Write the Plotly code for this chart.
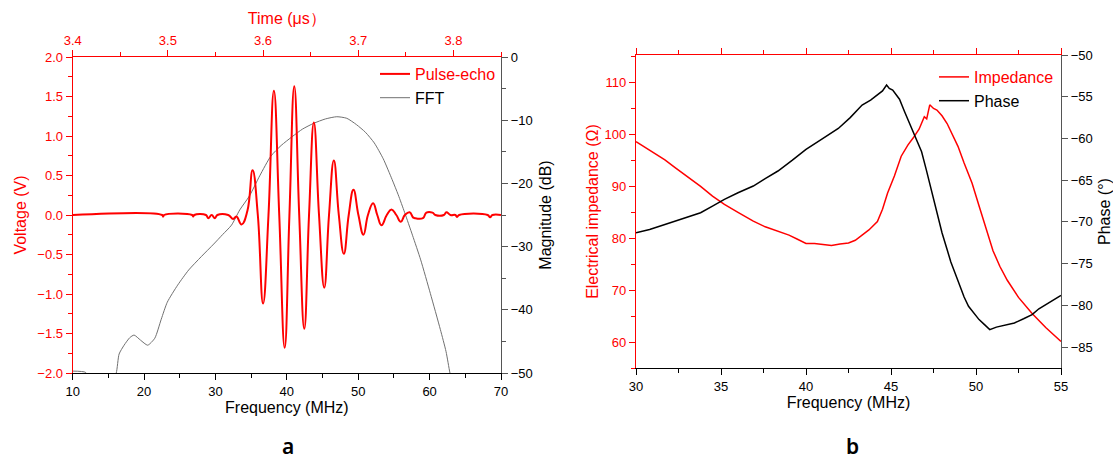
import plotly.graph_objects as go

# ---------------- Panel a: pulse-echo (time) ----------------
pulse_time = [3.400, 3.494, 3.4951, 3.496, 3.5255, 3.5266, 3.5277, 3.540, 3.5424, 3.546, 3.5494, 3.552,
              3.5634, 3.5686, 3.572, 3.5774, 3.5835, 3.589, 3.5945, 3.600, 3.6057, 3.6114, 3.617,
              3.6227, 3.6277, 3.6328, 3.638, 3.6433, 3.6483, 3.6534, 3.6588, 3.6643, 3.6693,
              3.6744, 3.6796, 3.6849, 3.690, 3.6950, 3.7002, 3.7055, 3.7102, 3.7156, 3.720,
              3.7244, 3.730, 3.7349, 3.740, 3.7447, 3.749, 3.754, 3.7575, 3.7594, 3.768,
              3.7716, 3.778, 3.781, 3.790, 3.7926, 3.797, 3.802, 3.8038, 3.806, 3.836,
              3.8385, 3.841, 3.850]
pulse_volt = [0.0, 0.0, -0.02, 0.0, 0.0, -0.02, 0.0, 0.0, -0.04, 0.0, -0.04, 0.0,
              0.0, -0.05, -0.02, -0.12, 0.05, 0.566, 0.0, -1.12, 0.0, 1.572, 0.0,
              -1.68, 0.0, 1.63, 0.0, -1.44, 0.0, 1.17, 0.0, -0.92, 0.0,
              0.69, 0.0, -0.49, 0.0, 0.32, 0.0, -0.25, 0.0, 0.15, 0.0,
              -0.13, 0.0, 0.07, 0.0, -0.085, 0.0, 0.035, -0.03, -0.04, -0.04,
              0.03, 0.03, 0.0, 0.0, 0.035, 0.0, 0.0, -0.025, 0.0, 0.0,
              -0.03, 0.0, 0.0]

# ---------------- Panel a: FFT (frequency) ----------------
fft_freq = [10.0, 11.8, 12.3, 15.6, 16.1, 16.5, 17.2, 18.0, 18.6, 19.5, 20.5, 21.5, 22.4, 23.25,
            24.7, 26.25, 28.0, 29.75, 31.0, 32.25, 33.4, 34.75, 36.2, 37.75, 39.2, 40.75, 42.2,
            43.75, 45.4, 47.0, 48.4, 49.75, 51.0, 52.25, 53.5, 54.75, 55.6, 56.5, 57.6, 58.75,
            60.1, 61.5, 62.3, 62.85, 63.5]
fft_db = [-49.7, -49.9, -51.0, -51.0, -50.0, -47.0, -45.6, -44.4, -44.0, -44.8, -45.6, -44.5, -41.5,
          -38.8, -36.1, -33.7, -31.6, -29.6, -28.1, -26.6, -24.2, -22.0, -18.8, -15.7, -14.0,
          -12.6, -11.4, -10.5, -9.8, -9.45, -9.7, -10.7, -11.9, -13.6, -16.1, -19.4, -21.8,
          -24.6, -28.2, -32.1, -37.4, -43.1, -46.6, -50.0, -53.0]

# ---------------- Panel b: impedance / phase ----------------
imp_freq = [30.0, 30.5, 31.0, 31.7, 32.3, 33.0, 33.8, 34.5, 35.2, 36.0, 36.9, 37.6, 38.4, 39.0,
            39.5, 40.0, 40.5, 41.0, 41.5, 42.0, 42.5, 42.9, 43.3, 43.7, 44.2, 44.5, 44.8, 45.2,
            45.6, 46.0, 46.3, 46.65, 46.96, 47.1, 47.28, 47.5, 47.7, 48.0, 48.3, 48.6, 48.94,
            49.3, 49.77, 50.2, 50.6, 51.0, 51.4, 51.84, 52.5, 53.3, 54.1, 55.0]
imp_ohm = [98.6, 97.6, 96.6, 95.1, 93.6, 91.9, 90.0, 88.1, 86.5, 85.0, 83.3, 82.2, 81.3, 80.6,
           79.8, 79.0, 79.0, 78.8, 78.6, 78.9, 79.1, 79.6, 80.6, 81.6, 83.2, 85.6, 88.7, 92.0,
           95.8, 98.0, 99.3, 101.0, 103.4, 103.0, 105.7, 105.0, 104.7, 103.6, 102.1, 100.0, 97.7,
           94.5, 90.6, 86.0, 81.7, 77.6, 74.6, 71.9, 68.6, 65.5, 62.8, 60.1]

ph_freq = [30.0, 30.8, 31.7, 32.7, 33.8, 34.5, 35.2, 36.0, 36.9, 37.6, 38.35, 39.2, 40.0, 41.0,
           41.9, 42.6, 43.3, 43.8, 44.2, 44.5, 44.74, 44.9, 45.1, 45.5, 45.8, 46.1, 46.44, 46.8,
           47.07, 47.4, 47.69, 48.0, 48.3, 48.52, 48.8, 49.04, 49.3, 49.56, 49.9, 50.18, 50.5,
           50.81, 51.2, 51.64, 52.26, 52.8, 53.3, 53.7, 54.13, 54.5, 55.0]
ph_deg = [-71.3, -70.9, -70.3, -69.6, -68.9, -68.1, -67.3, -66.5, -65.7, -64.8, -63.9, -62.6, -61.3,
          -60.0, -58.8, -57.5, -56.0, -55.4, -54.8, -54.3, -53.6, -54.0, -54.2, -55.3, -56.8, -58.2,
          -59.8, -61.6, -63.7, -66.3, -68.9, -71.3, -73.3, -74.8, -76.3, -77.6, -79.0, -80.1, -81.0,
          -81.7, -82.3, -82.9, -82.6, -82.4, -82.1, -81.6, -81.1, -80.4, -79.9, -79.4, -78.8]

RED = "#ff0000"
FONT = "Liberation Sans, Arial, sans-serif"
W, H = 1113, 461

def px(x):
    return x / W

def py(y):
    return 1 - y / H

fig = go.Figure()

fig.add_trace(go.Scatter(x=pulse_time, y=pulse_volt, xaxis="x2", yaxis="y2", mode="lines",
                         line=dict(color=RED, width=2, shape="spline", smoothing=1.3),
                         name='<span style="color:#ff0000">Pulse-echo</span>', legend="legend"))
fig.add_trace(go.Scatter(x=fft_freq, y=fft_db, xaxis="x", yaxis="y", mode="lines",
                         line=dict(color="#707070", width=1, shape="spline", smoothing=0.6),
                         name="FFT", legend="legend"))
fig.add_trace(go.Scatter(x=imp_freq, y=imp_ohm, xaxis="x3", yaxis="y3", mode="lines",
                         line=dict(color=RED, width=1.5),
                         name='<span style="color:#ff0000">Impedance</span>', legend="legend2"))
fig.add_trace(go.Scatter(x=ph_freq, y=ph_deg, xaxis="x4", yaxis="y4", mode="lines",
                         line=dict(color="#000000", width=1.5),
                         name="Phase", legend="legend2"))

tickfont_red = dict(family=FONT, size=13, color=RED)
tickfont_blk = dict(family=FONT, size=13, color="#000000")
titlefont_red = dict(family=FONT, size=16, color=RED)
titlefont_blk = dict(family=FONT, size=16, color="#000000")

common = dict(showgrid=False, zeroline=False, showline=True, linewidth=1.2,
              ticks="outside", ticklen=6, tickwidth=1, automargin=False)

dom_a_x = [px(72.7), px(501)]
dom_a_y = [py(373), py(57)]
dom_b_x = [px(636), px(1061)]
dom_b_y = [py(368), py(55)]

fig.update_layout(
    width=W, height=H, autosize=False,
    margin=dict(l=0, r=0, t=0, b=0),
    paper_bgcolor="white", plot_bgcolor="white",
    showlegend=True,
    xaxis=dict(**common, domain=dom_a_x, range=[10, 70], dtick=10, tick0=10,
               linecolor="#000000", tickcolor="#000000", tickfont=tickfont_blk,
               minor=dict(ticks="outside", ticklen=4, dtick=5, tickcolor="#000000"),
               title=dict(text="Frequency (MHz)", font=titlefont_blk, standoff=2),
               anchor="y"),
    yaxis=dict(**common, domain=dom_a_y, side="right", range=[-50, 0], dtick=10,
               linecolor="#555555", tickcolor="#555555", tickfont=tickfont_blk,
               minor=dict(ticks="outside", ticklen=4, dtick=5, tickcolor="#555555"),
               title=dict(text="Magnitude (dB)", font=titlefont_blk, standoff=8),
               anchor="x"),
    xaxis2=dict(**common, overlaying="x", side="top", range=[3.4, 3.85], dtick=0.1, tick0=3.4,
                tickformat=".1f", linecolor=RED, tickcolor=RED, tickfont=tickfont_red,
                minor=dict(ticks="outside", ticklen=4, dtick=0.05, tickcolor=RED),
                title=dict(text="Time (μs）", font=titlefont_red, standoff=4),
                anchor="y2"),
    yaxis2=dict(**common, overlaying="y", side="left", range=[-2, 2], dtick=0.5, tickformat=".1f",
                linecolor=RED, tickcolor=RED, tickfont=tickfont_red,
                minor=dict(ticks="outside", ticklen=4, dtick=0.25, tickcolor=RED),
                title=dict(text="Voltage (V)", font=titlefont_red, standoff=6),
                anchor="x2"),
    xaxis3=dict(**common, domain=dom_b_x, range=[30, 55], dtick=5, tick0=30,
                linecolor="#000000", tickcolor="#000000", tickfont=tickfont_blk,
                minor=dict(ticks="outside", ticklen=4, dtick=2.5, tickcolor="#000000"),
                title=dict(text="Frequency (MHz)", font=titlefont_blk, standoff=2),
                anchor="y3"),
    yaxis3=dict(**common, domain=dom_b_y, range=[55, 115.3], dtick=10, tick0=60,
                linecolor=RED, tickcolor=RED, tickfont=tickfont_red,
                minor=dict(ticks="outside", ticklen=4, dtick=5, tickcolor=RED),
                title=dict(text="Electrical impedance (Ω)", font=titlefont_red, standoff=1),
                anchor="x3"),
    xaxis4=dict(**common, overlaying="x3", side="top", range=[30, 55], dtick=5, tick0=30,
                showticklabels=False, linecolor=RED, tickcolor=RED,
                minor=dict(ticks="outside", ticklen=4, dtick=2.5, tickcolor=RED),
                anchor="y4"),
    yaxis4=dict(**common, overlaying="y3", side="right", range=[-87.5, -50], dtick=5, tick0=-50,
                linecolor="#555555", tickcolor="#555555", tickfont=tickfont_blk,
                title=dict(text="Phase (°)", font=titlefont_blk, standoff=13),
                anchor="x4"),
    legend=dict(x=px(375), y=py(57), xanchor="left", yanchor="top",
                bgcolor="rgba(0,0,0,0)", borderwidth=0,
                font=dict(family=FONT, size=16, color="#000000"),
                tracegroupgap=0, itemwidth=30),
    legend2=dict(x=px(934), y=py(60), xanchor="left", yanchor="top",
                 bgcolor="rgba(0,0,0,0)", borderwidth=0,
                 font=dict(family=FONT, size=16, color="#000000"),
                 tracegroupgap=0, itemwidth=30),
    annotations=[
        dict(text="a", x=px(288), y=py(446), xref="paper", yref="paper", showarrow=False,
             font=dict(family="Noto Sans", size=21, color="#000000", weight=600), xanchor="center",
             yanchor="middle", borderpad=0),
        dict(text="b", x=px(852), y=py(446), xref="paper", yref="paper", showarrow=False,
             font=dict(family="Noto Sans", size=21, color="#000000", weight=600), xanchor="center",
             yanchor="middle", borderpad=0),
    ],
)

fig.write_html("out.html", config={"displayModeBar": False},
               post_script="document.body.style.margin='0';document.body.style.overflow='hidden';")
